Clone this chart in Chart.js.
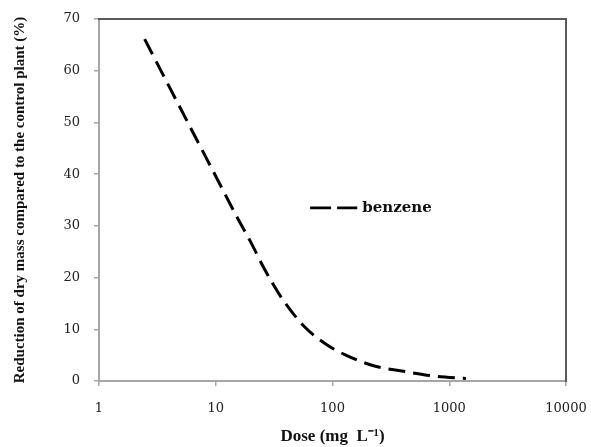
<!DOCTYPE html>
<html><head><meta charset="utf-8">
<script src="https://cdn.jsdelivr.net/npm/chart.js@4/dist/chart.umd.min.js"></script>
<style>html,body{margin:0;padding:0;background:#fff;}</style>
</head><body>
<canvas id="c" width="591" height="447"></canvas>
<script>
// Data
const doses = [2.46, 6.3, 10, 15.2, 20, 26.2, 37.6, 57.6, 85.5, 130, 229, 426, 716, 1390];
const reduction = [66.1, 48.3, 39.6, 31.7, 26.8, 21.6, 15.7, 10.5, 7.3, 5.0, 2.9, 1.8, 1.0, 0.5];
const xTickValues = [1, 10, 100, 1000, 10000];
const yTickValues = [0, 10, 20, 30, 40, 50, 60, 70];
const seriesLabel = 'benzene';
const xTitle = 'Dose (mg  L\u207B\u00B9)';
const yTitle = 'Reduction of dry mass compared to the control plant (%)';

const points = doses.map((d, i) => ({ x: d, y: reduction[i] }));

const tickFont = { family: 'DejaVu Serif', size: 13 };
const axisGray = '#a6a6a6';
const frameGray = '#5a5a5a';

const legendInside = {
  id: 'legendInside',
  afterDatasetsDraw(chart) {
    const ds = chart.data.datasets[0];
    const a = chart.chartArea;
    const ctx = chart.ctx;
    const x0 = a.left + (a.right - a.left) * 0.452;
    const x1 = a.left + (a.right - a.left) * 0.553;
    const y = a.top + (a.bottom - a.top) * 0.522;
    ctx.save();
    ctx.strokeStyle = ds.borderColor;
    ctx.lineWidth = 2.7;
    ctx.setLineDash([21, 6]);
    ctx.beginPath();
    ctx.moveTo(x0, y);
    ctx.lineTo(x1, y);
    ctx.stroke();
    ctx.setLineDash([]);
    ctx.fillStyle = '#111';
    ctx.font = 'bold 15px "DejaVu Serif"';
    ctx.textBaseline = 'middle';
    ctx.textAlign = 'left';
    ctx.fillText(ds.label, x1 + 5, y);
    ctx.restore();
  }
};

function noPad(s) { s.paddingLeft = 0; s.paddingRight = 0; s.paddingTop = 0; s.paddingBottom = 0; }

new Chart(document.getElementById('c'), {
  type: 'line',
  data: {
    datasets: [{
      label: seriesLabel,
      data: points,
      borderColor: '#000',
      borderWidth: 3,
      borderDash: [17, 8],
      pointRadius: 0,
      fill: false,
      cubicInterpolationMode: 'monotone'
    }]
  },
  options: {
    responsive: false,
    animation: false,
    devicePixelRatio: 1,
    layout: { padding: 0 },
    plugins: { legend: { display: false }, tooltip: { enabled: false } },
    scales: {
      x: {
        type: 'logarithmic',
        position: 'bottom',
        min: xTickValues[0],
        max: xTickValues[xTickValues.length - 1],
        afterBuildTicks: s => { s.ticks = xTickValues.map(v => ({ value: v })); },
        afterFit: s => { s.height = 66; noPad(s); },
        ticks: { font: tickFont, color: '#222', padding: 15, autoSkip: false, maxRotation: 0, callback: v => String(v) },
        grid: { display: true, drawOnChartArea: false, drawTicks: true, tickLength: 5, color: axisGray, lineWidth: 1.5 },
        border: { display: true, color: axisGray, width: 2 },
        title: { display: true, text: xTitle, color: '#111', font: { family: 'Liberation Serif', size: 17, weight: 'bold' }, padding: { top: 0, bottom: 0 } }
      },
      y: {
        type: 'linear',
        position: 'left',
        min: yTickValues[0],
        max: yTickValues[yTickValues.length - 1],
        afterBuildTicks: s => { s.ticks = yTickValues.map(v => ({ value: v })); },
        afterFit: s => { s.width = 99; noPad(s); },
        ticks: { font: tickFont, color: '#222', padding: 14 },
        grid: { display: true, drawOnChartArea: false, drawTicks: true, tickLength: 5, color: axisGray, lineWidth: 1.5 },
        border: { display: true, color: axisGray, width: 2 },
        title: { display: true, text: yTitle, color: '#111', font: { family: 'Liberation Serif', size: 15, weight: 'bold' }, padding: { top: 11, bottom: 0 } }
      },
      xTop: {
        type: 'linear', axis: 'x', position: 'top', min: 0, max: 1,
        afterFit: s => { s.height = 19; noPad(s); },
        ticks: { display: false },
        grid: { display: false },
        border: { display: true, color: frameGray, width: 2 }
      },
      yRight: {
        type: 'linear', axis: 'y', position: 'right', min: 0, max: 1,
        afterFit: s => { s.width = 25; noPad(s); },
        ticks: { display: false },
        grid: { display: false },
        border: { display: true, color: frameGray, width: 2 }
      }
    }
  },
  plugins: [legendInside]
});
</script>
</body></html>
